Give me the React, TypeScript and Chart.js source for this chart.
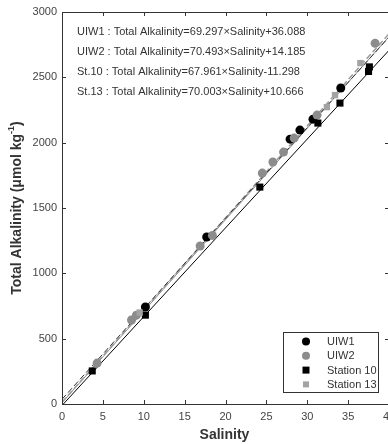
import React, { useEffect, useRef } from "react";
import { Chart, registerables } from "chart.js";

Chart.register(...registerables);

// ---- data ----
const uiw1Salinity = [10.2, 17.7, 27.9, 29.1, 30.7, 34.1];
const uiw1Alkalinity = [742, 1278, 2027, 2096, 2180, 2418];

const uiw2Salinity = [4.3, 8.5, 9.1, 16.9, 18.4, 24.5, 25.8, 27.1, 28.4, 31.2, 38.3];
const uiw2Alkalinity = [313, 643, 680, 1209, 1290, 1767, 1852, 1928, 2035, 2211, 2760];

const st10Salinity = [3.7, 10.2, 24.2, 31.3, 34.0, 37.5, 37.6];
const st10Alkalinity = [253, 680, 1660, 2150, 2303, 2545, 2580];

const st13Salinity = [9.5, 32.4, 33.4, 36.5];
const st13Alkalinity = [700, 2272, 2364, 2609];

const seriesNames = ["UIW1", "UIW2", "Station 10", "Station 13"];
const fitNames = ["UIW1", "UIW2", "St.10", "St.13"];
const fitSlopes = [69.297, 70.493, 67.961, 70.003];
const fitIntercepts = [36.088, 14.185, -11.298, 10.666];
const fitRange = [0, 40];

const xTickValues = [0, 5, 10, 15, 20, 25, 30, 35, 40];
const yTickValues = [0, 500, 1000, 1500, 2000, 2500, 3000];

const FONT = "Arial, 'Liberation Sans', sans-serif";

const pts = (xs: number[], ys: number[]) => xs.map((x, i) => ({ x, y: ys[i] }));

export default function App() {
  const ref = useRef<HTMLCanvasElement | null>(null);

  useEffect(() => {
    if (!ref.current) return;

    const markerStyles = [
      { style: "circle", color: "#000000", r: 4.5 },
      { style: "circle", color: "#8c8c8c", r: 4.5 },
      { style: "rect", color: "#000000", r: 5 },
      { style: "rect", color: "#a3a3a3", r: 4.5 },
    ];
    const lineStyles = [
      { color: "#333333", dash: [6, 3], width: 1 },
      { color: "#9a9a9a", dash: [6, 3], width: 1.5 },
      { color: "#000000", dash: [], width: 1 },
      { color: "#888888", dash: [], width: 1 },
    ];

    const scatterData = [
      pts(uiw1Salinity, uiw1Alkalinity),
      pts(uiw2Salinity, uiw2Alkalinity),
      pts(st10Salinity, st10Alkalinity),
      pts(st13Salinity, st13Alkalinity),
    ];

    const datasets: any[] = [];
    scatterData.forEach((d, i) => {
      datasets.push({
        type: "scatter",
        label: seriesNames[i],
        data: d,
        pointStyle: markerStyles[i].style,
        pointRadius: markerStyles[i].r,
        pointBackgroundColor: markerStyles[i].color,
        pointBorderColor: markerStyles[i].color,
        pointBorderWidth: 0,
        order: 4 - i,
      });
    });
    fitSlopes.forEach((m, i) => {
      datasets.push({
        type: "line",
        label: fitNames[i] + " fit",
        data: fitRange.map((x) => ({ x, y: m * x + fitIntercepts[i] })),
        borderColor: lineStyles[i].color,
        borderDash: lineStyles[i].dash,
        borderWidth: lineStyles[i].width,
        pointRadius: 0,
        fill: false,
        order: 10,
      });
    });

    const decor = {
      id: "decor",
      afterDraw(chart: any) {
        const { ctx, chartArea } = chart;
        const { left, right, top, bottom } = chartArea;
        const xs = chart.scales.x;
        const ys = chart.scales.y;
        ctx.save();
        // box
        ctx.strokeStyle = "#333333";
        ctx.lineWidth = 1;
        ctx.strokeRect(Math.round(left) + 0.5, Math.round(top) + 0.5, Math.round(right - left), Math.round(bottom - top));
        // inner ticks
        const tl = 4;
        ctx.beginPath();
        xTickValues.forEach((v) => {
          const px = Math.round(xs.getPixelForValue(v)) + 0.5;
          ctx.moveTo(px, bottom);
          ctx.lineTo(px, bottom - tl);
          ctx.moveTo(px, top);
          ctx.lineTo(px, top + tl);
        });
        yTickValues.forEach((v) => {
          const py = Math.round(ys.getPixelForValue(v)) + 0.5;
          ctx.moveTo(left, py);
          ctx.lineTo(left + tl, py);
          ctx.moveTo(right, py);
          ctx.lineTo(right - tl, py);
        });
        ctx.stroke();

        // equations
        ctx.fillStyle = "#333333";
        ctx.font = `11px ${FONT}`;
        ctx.textAlign = "left";
        ctx.textBaseline = "middle";
        fitNames.forEach((n, i) => {
          const b = fitIntercepts[i];
          const s = `${n} : Total Alkalinity=${fitSlopes[i].toFixed(3)}×Salinity${b >= 0 ? "+" : ""}${b.toFixed(3)}`;
          ctx.fillText(s, 77, 32 + i * 20);
        });

        // legend
        const lx = 283, ly = 332, lw = 95, lh = 60;
        ctx.fillStyle = "#ffffff";
        ctx.fillRect(lx, ly, lw, lh);
        ctx.strokeStyle = "#333333";
        ctx.strokeRect(lx + 0.5, ly + 0.5, lw, lh);
        seriesNames.forEach((n, i) => {
          const cy = ly + 9.5 + i * 14.3;
          const m = markerStyles[i];
          ctx.fillStyle = m.color;
          if (m.style === "circle") {
            ctx.beginPath();
            ctx.arc(306, cy, 4, 0, Math.PI * 2);
            ctx.fill();
          } else {
            const h = m.color === "#000000" ? 3.5 : 3;
            ctx.fillRect(306 - h, cy - h, 2 * h, 2 * h);
          }
          ctx.fillStyle = "#333333";
          ctx.font = `11px ${FONT}`;
          ctx.textAlign = "left";
          ctx.fillText(n, 327, cy + 0.5);
        });

        // axis titles
        ctx.fillStyle = "#333333";
        ctx.font = `bold 14px ${FONT}`;
        ctx.textAlign = "center";
        ctx.textBaseline = "middle";
        ctx.fillText("Salinity", (left + 389) / 2 - 1, 435);

        ctx.save();
        ctx.translate(17, 208);
        ctx.rotate(-Math.PI / 2);
        const main = "Total Alkalinity (μmol kg";
        const sup = "-1";
        const close = ")";
        ctx.font = `bold 14px ${FONT}`;
        const w1 = ctx.measureText(main).width;
        const w3 = ctx.measureText(close).width;
        ctx.font = `bold 9px ${FONT}`;
        const w2 = ctx.measureText(sup).width;
        const total = w1 + w2 + w3;
        let x0 = -total / 2;
        ctx.textAlign = "left";
        ctx.font = `bold 14px ${FONT}`;
        ctx.fillText(main, x0, 0);
        ctx.font = `bold 9px ${FONT}`;
        ctx.fillText(sup, x0 + w1, -5);
        ctx.font = `bold 14px ${FONT}`;
        ctx.fillText(close, x0 + w1 + w2, 0);
        ctx.restore();

        ctx.restore();
      },
    };

    const chart = new Chart(ref.current, {
      type: "scatter",
      data: { datasets },
      options: {
        animation: false,
        responsive: false,
        maintainAspectRatio: false,
        layout: { padding: { left: 0, right: 21, top: 12, bottom: 0 } },
        plugins: {
          legend: { display: false },
          tooltip: { enabled: false },
        },
        scales: {
          x: {
            type: "linear",
            min: 0,
            max: 40,
            afterFit: (s: any) => {
              s.height = 40;
            },
            afterBuildTicks: (s: any) => {
              s.ticks = xTickValues.map((v) => ({ value: v }));
            },
            grid: { display: false, drawTicks: false },
            border: { display: false },
            ticks: {
              padding: 6,
              color: "#444444",
              font: { family: FONT, size: 11 },
              maxRotation: 0,
              autoSkip: false,
              callback: (v: any) => String(v),
            },
          },
          y: {
            type: "linear",
            min: 0,
            max: 3000,
            afterFit: (s: any) => {
              s.width = 62;
            },
            afterBuildTicks: (s: any) => {
              s.ticks = yTickValues.map((v) => ({ value: v }));
            },
            grid: { display: false, drawTicks: false },
            border: { display: false },
            ticks: {
              padding: 5,
              color: "#444444",
              font: { family: FONT, size: 11 },
              autoSkip: false,
              callback: (v: any) => String(v),
            },
          },
        },
      },
      plugins: [decor],
    } as any);

    return () => chart.destroy();
  }, []);

  return (
    <div style={{ position: "absolute", left: 0, top: 0, width: 388, height: 444, overflow: "hidden", background: "#fff" }}>
      <canvas ref={ref} width={410} height={444} style={{ display: "block", width: 410, height: 444 }} />
    </div>
  );
}
